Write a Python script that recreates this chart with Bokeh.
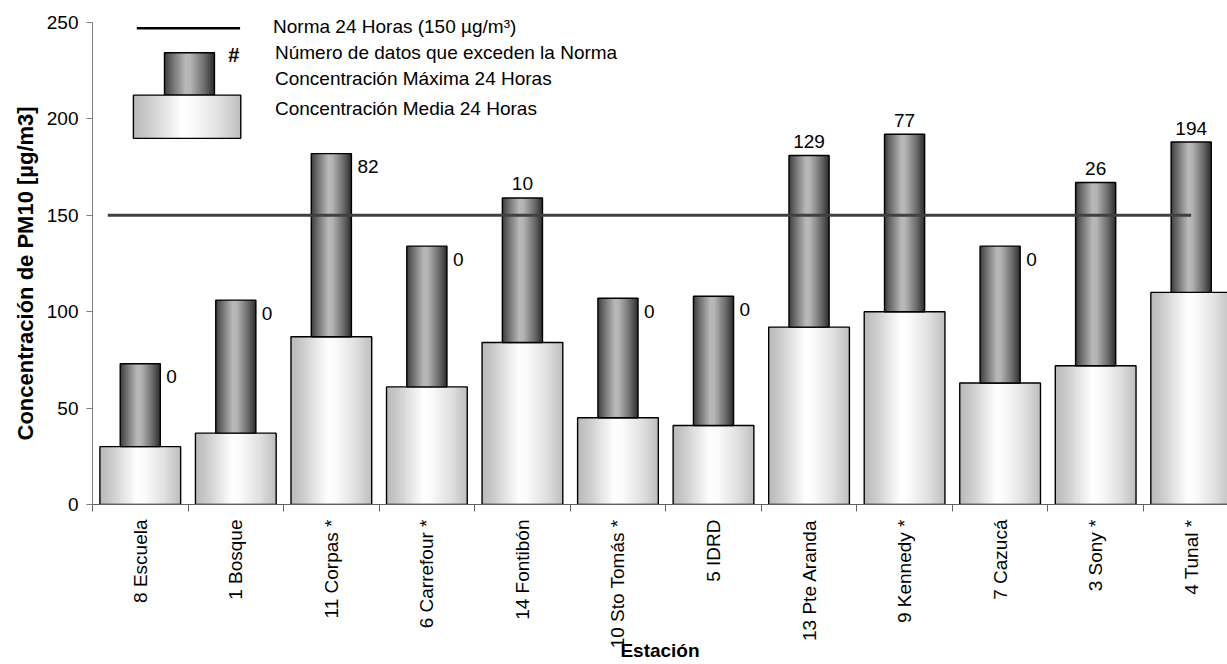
import math
import numpy as np
from bokeh.plotting import figure
from bokeh.models import Range1d, FixedTicker, LinearAxis, Title
from bokeh.core.properties import value
from bokeh.embed import file_html
from bokeh.resources import INLINE

# PM10 24-hour concentrations by monitoring station
stations = ["8 Escuela", "1 Bosque", "11 Corpas *", "6 Carrefour *", "14 Fontibón",
            "10 Sto Tomás *", "5 IDRD", "13 Pte Aranda", "9 Kennedy *", "7 Cazucá",
            "3 Sony *", "4 Tunal *"]
mean_24h = [30, 37, 87, 61, 84, 45, 41, 92, 100, 63, 72, 110]
max_24h = [73, 106, 182, 134, 159, 107, 108, 181, 192, 134, 167, 188]
exceed_count = [0, 0, 82, 0, 10, 0, 0, 129, 77, 0, 26, 194]
norm_24h = 150
y_ticks = [0, 50, 100, 150, 200, 250]

# where each count label sits: beside the max bar (True) or above it (False)
label_beside = [True, True, True, True, False, True, True, False, False, True, False, False]

FONT = "Liberation Sans"
FS = "19px"
W, H = 1227, 664
X_END = 11.88
Y_END = 261.4             # a little headroom above the 250 tick for the legend
FRAME_W = 1135
FRAME_H = 504
DX = X_END / FRAME_W      # data units per pixel, x
DY = Y_END / FRAME_H      # data units per pixel, y

MEAN_W = 0.845
MAX_W = 0.42

p = figure(width=W, height=H, output_backend="svg", toolbar_location=None,
           x_range=Range1d(0, X_END), y_range=Range1d(0, Y_END),
           x_axis_type=None, y_axis_type=None,
           min_border_left=92, min_border_right=0, min_border_top=0, min_border_bottom=160)
p.outline_line_color = None
p.background_fill_color = "white"
p.border_fill_color = "white"

# gradient profiles (position across bar, grey level)
MEAN_PROFILE = [(0.0, 0xb9), (0.12, 0xc8), (0.45, 0xfe), (0.56, 0xfa), (0.8, 0xe0), (1.0, 0xbe)]
MAX_PROFILE = [(0.0, 0x3a), (0.1, 0x5e), (0.42, 0xb9), (0.52, 0xb5), (0.8, 0x6c), (1.0, 0x2c)]
N_STRIPES = 36


def shade(profile, u):
    pos = [a for a, _ in profile]
    lev = [b for _, b in profile]
    g = int(round(np.interp(u, pos, lev)))
    return "#%02x%02x%02x" % (g, g, g)


def gradient_bars(centers, bottoms, tops, width, profile):
    d = dict(left=[], right=[], bottom=[], top=[], color=[])
    step = width / N_STRIPES
    for xc, b, t in zip(centers, bottoms, tops):
        x0 = xc - width / 2
        for k in range(N_STRIPES):
            d["left"].append(x0 + k * step)
            d["right"].append(min(x0 + (k + 1.8) * step, x0 + width))
            d["bottom"].append(b)
            d["top"].append(t)
            d["color"].append(shade(profile, (k + 0.5) / N_STRIPES))
    p.quad(left="left", right="right", bottom="bottom", top="top", source=d,
           fill_color="color", line_color=None)
    p.quad(left=[c - width / 2 for c in centers], right=[c + width / 2 for c in centers],
           bottom=bottoms, top=tops, fill_color=None, line_color="black", line_width=1.4)


centers = [i + 0.5 for i in range(len(stations))]

# mean bars, then the max bars stacked on top of them
gradient_bars(centers, [0] * len(stations), mean_24h, MEAN_W, MEAN_PROFILE)
gradient_bars(centers, mean_24h, max_24h, MAX_W, MAX_PROFILE)

# 24 h standard, running from the first station to the last
p.line(x=[centers[0] - 0.34, centers[-1]], y=[norm_24h, norm_24h],
       line_color="#404040", line_width=3)

# count labels
for xc, m, n, side in zip(centers, max_24h, exceed_count, label_beside):
    if side:
        p.text(x=[xc + MAX_W / 2 + 6 * DX], y=[m - 13 * DY], text=[str(n)],
               text_font=value(FONT), text_font_size=FS, text_align="left",
               text_baseline="middle", text_color="black")
    else:
        p.text(x=[xc], y=[m + 14 * DY], text=[str(n)],
               text_font=value(FONT), text_font_size=FS, text_align="center",
               text_baseline="middle", text_color="black")

# legend
p.line(x=[0.464, 1.545], y=[247, 247], line_color="black", line_width=2.5)
gradient_bars([1.015], [212.3], [234.3], 0.523, MAX_PROFILE)
gradient_bars([0.99], [189.9], [212.3], 1.124, MEAN_PROFILE)
p.text(x=[1.48], y=[233.0], text=["#"], text_font=value(FONT), text_font_size="20px",
       text_font_style="bold", text_align="center", text_baseline="middle")
legend_texts = ["Norma 24 Horas (150 µg/m³)", "Número de datos que exceden la Norma",
                "Concentración Máxima 24 Horas", "Concentración Media 24 Horas"]
legend_y = [247.8, 234.2, 220.7, 205.6]
legend_x = [1.89, 1.91, 1.91, 1.91]
p.text(x=legend_x, y=legend_y, text=legend_texts, text_font=value(FONT), text_font_size=FS,
       text_align="left", text_baseline="middle", text_color="black")

# axes
yaxis = LinearAxis(ticker=FixedTicker(ticks=y_ticks, minor_ticks=[]), bounds=(0, 250))
yaxis.axis_line_color = "#808080"
yaxis.major_tick_line_color = "#808080"
yaxis.major_tick_out = 6
yaxis.major_tick_in = 0
yaxis.minor_tick_out = 0
yaxis.major_label_standoff = 8
yaxis.major_label_text_font = FONT
yaxis.major_label_text_font_size = FS
yaxis.major_label_text_color = "black"
p.add_layout(yaxis, "left")

# y title, started a little above the foot of the axis
p.add_layout(Title(text="Concentración de PM10 [µg/m3]", align="left", offset=64,
                   text_font=FONT, text_font_size="22px", text_font_style="bold",
                   text_color="black", standoff=12), "left")

xaxis = LinearAxis(ticker=FixedTicker(ticks=centers, minor_ticks=list(range(len(stations) + 1))))
xaxis.major_label_overrides = {c: s for c, s in zip(centers, stations)}
xaxis.major_label_orientation = math.pi / 2
xaxis.axis_line_color = "#606060"
xaxis.major_tick_out = 0
xaxis.major_tick_in = 0
xaxis.minor_tick_line_color = "#606060"
xaxis.minor_tick_out = 7
xaxis.minor_tick_in = 0
xaxis.major_label_standoff = 8
xaxis.major_label_text_font = FONT
xaxis.major_label_text_font_size = FS
xaxis.major_label_text_color = "black"
xaxis.axis_label = "Estación"
xaxis.axis_label_text_font = FONT
xaxis.axis_label_text_font_size = "19px"
xaxis.axis_label_text_font_style = "bold"
xaxis.axis_label_text_color = "black"
xaxis.axis_label_standoff = -11
p.add_layout(xaxis, "below")

p.xgrid.visible = False
p.ygrid.visible = False

open("out.html", "w").write(file_html(p, INLINE))
